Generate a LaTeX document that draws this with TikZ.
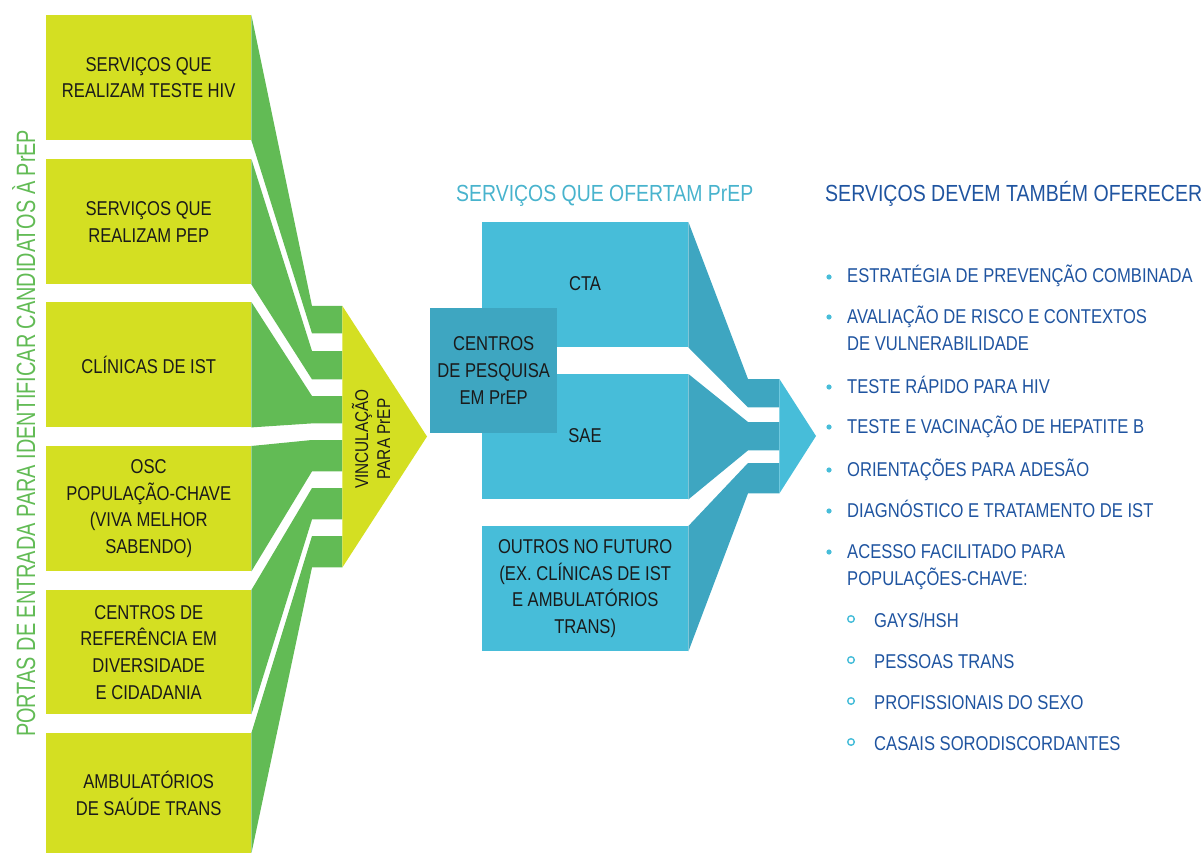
\documentclass[tikz,border=0pt]{standalone}
\usepackage{fontspec}
\usepackage{graphicx}
\setmainfont{Liberation Sans}[FakeStretch=0.83]
\definecolor{ygreen}{HTML}{D4DF22}
\definecolor{lgreen}{HTML}{62BB55}
\definecolor{lblue}{HTML}{47BDD9}
\definecolor{dteal}{HTML}{3EA6C1}
\definecolor{ttlblue}{HTML}{48B3CD}
\definecolor{dblue}{HTML}{1F54A0}
\definecolor{txt}{HTML}{1A1A1A}
\tikzset{
  entry/.style={rectangle, fill=ygreen, minimum width=205pt, minimum height=125pt, inner sep=0pt, anchor=north west, align=center, text=txt, font=\fontsize{20}{26.7}\selectfont},
  gbar/.style={rectangle, fill=lgreen, minimum width=30pt, inner sep=0pt, anchor=north west},
  svc/.style={rectangle, fill=lblue, minimum width=206pt, minimum height=125pt, inner sep=0pt, anchor=north west, align=center, text=txt, font=\fontsize{20}{26.7}\selectfont},
  tbar/.style={rectangle, fill=dteal, minimum width=31pt, inner sep=0pt, anchor=north west},
  item/.style={anchor=base west, inner sep=0pt, align=left, text=dblue, font=\fontsize{20}{27}\selectfont},
  ttl/.style={anchor=base west, inner sep=0pt, font=\fontsize{23.3}{23.3}\selectfont},
  bul/.style={fill=lblue},
  subbul/.style={draw=lblue, line width=1.4pt},
}
\begin{document}
\begin{tikzpicture}[x=1pt,y=-1pt]
\useasboundingbox (0,0) rectangle (1203,853);
% side label
\node[rotate=90, anchor=base west, inner sep=0pt, text=lgreen, font=\fontsize{26.5}{26.5}\selectfont] (side) at (35,737)
  {\resizebox{607pt}{\height}{PORTAS DE ENTRADA PARA IDENTIFICAR CANDIDATOS À PrEP}};
% entry boxes
\node[entry] (b1) at (46,15) {SERVIÇOS QUE\\REALIZAM TESTE HIV};
\node[entry] (b2) at (46,159) {SERVIÇOS QUE\\REALIZAM PEP};
\node[entry] (b3) at (46,302) {CLÍNICAS DE IST};
\node[entry] (b4) at (46,446) {OSC\\POPULAÇÃO-CHAVE\\(VIVA MELHOR\\SABENDO)};
\node[entry, minimum height=124pt] (b5) at (46,590) {CENTROS DE\\REFERÊNCIA EM\\DIVERSIDADE\\E CIDADANIA};
\node[entry, minimum height=120pt] (b6) at (46,733) {AMBULATÓRIOS\\DE SAÚDE TRANS};
% green bars
\node[gbar, minimum height=27pt] (g1) at (312,306) {};
\node[gbar, minimum height=28pt] (g2) at (312,351) {};
\node[gbar, minimum height=27pt] (g3) at (312,396) {};
\node[gbar, minimum height=31pt] (g4) at (312,440) {};
\node[gbar, minimum height=31pt] (g5) at (312,488) {};
\node[gbar, minimum height=31pt] (g6) at (312,536) {};
% green funnels
\foreach \b/\g in {b1/g1,b2/g2,b3/g3,b4/g4,b5/g5,b6/g6}{
  \fill[lgreen] (\b.north east) -- (\g.north west) -- (\g.north east) -- (\g.south east) -- (\g.south west) -- (\b.south east) -- cycle;
}
% yellow arrow
\coordinate (vtip) at (427,436.5);
\fill[ygreen] (g1.north east) -- (vtip) -- (g6.south east) -- cycle;
\node[rotate=90, inner sep=0pt, align=center, text=txt, font=\fontsize{18.5}{22}\selectfont] (vinc) at (371,439) {VINCULAÇÃO\\PARA PrEP};
% titles
\node[ttl, text=ttlblue] (tt1) at (456,202) {\resizebox{297pt}{\height}{SERVIÇOS QUE OFERTAM PrEP}};
\node[ttl, text=dblue] (tt2) at (825,202) {\resizebox{377pt}{\height}{SERVIÇOS DEVEM TAMBÉM OFERECER}};
% service boxes
\node[svc] (cta) at (482,222) {};
\node[svc] (sae) at (482,374) {};
\node[svc] (out) at (482,526) {OUTROS NO FUTURO\\(EX. CLÍNICAS DE IST\\E AMBULATÓRIOS\\TRANS)};
\node[txt, font=\fontsize{20}{26.7}\selectfont, inner sep=0pt] (ctal) at (585,284) {CTA};
\node[txt, font=\fontsize{20}{26.7}\selectfont, inner sep=0pt] (sael) at (585,436) {SAE};
\node[rectangle, fill=dteal, minimum width=127pt, minimum height=125pt, inner sep=0pt, anchor=north west, align=center, text=txt, font=\fontsize{20}{26.7}\selectfont] (cen) at (430,308) {CENTROS\\DE PESQUISA\\EM PrEP};
% teal bars
\node[tbar, minimum height=28pt] (t1) at (748,379) {};
\node[tbar, minimum height=28pt] (t2) at (748,422) {};
\node[tbar, minimum height=30pt] (t3) at (748,463) {};
\foreach \b/\t in {cta/t1,sae/t2,out/t3}{
  \fill[dteal] (\b.north east) -- (\t.north west) -- (\t.north east) -- (\t.south east) -- (\t.south west) -- (\b.south east) -- cycle;
}
\coordinate (btip) at (816,436);
\fill[lblue] (t1.north east) -- (btip) -- (t3.south east) -- cycle;
% list
\node[item] (i1) at (847,283) {ESTRATÉGIA DE PREVENÇÃO COMBINADA};
\node[item] (i2) at (847,350) {AVALIAÇÃO DE RISCO E CONTEXTOS\\DE VULNERABILIDADE};
\node[item] (i3) at (847,393) {TESTE RÁPIDO PARA HIV};
\node[item] (i4) at (847,433) {TESTE E VACINAÇÃO DE HEPATITE B};
\node[item] (i5) at (847,476) {ORIENTAÇÕES PARA ADESÃO};
\node[item] (i6) at (847,517) {DIAGNÓSTICO E TRATAMENTO DE IST};
\node[item] (i7) at (847,585) {ACESSO FACILITADO PARA\\POPULAÇÕES-CHAVE:};
\node[item] (s1) at (874,627) {GAYS/HSH};
\node[item] (s2) at (874,668) {PESSOAS TRANS};
\node[item] (s3) at (874,709) {PROFISSIONAIS DO SEXO};
\node[item] (s4) at (874,750) {CASAIS SORODISCORDANTES};
\foreach \y in {277,317,387,427,470,511,552}{
  \fill[bul] (829,\y) circle (2.6);
}
\foreach \y in {619,660,701,742}{
  \draw[subbul] (851,\y) circle (3.3);
}
\end{tikzpicture}
\end{document}
